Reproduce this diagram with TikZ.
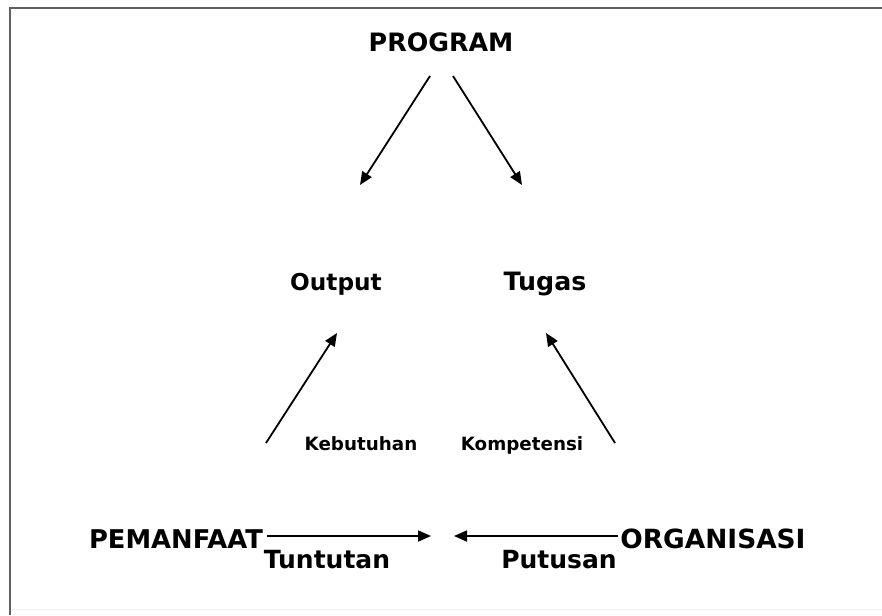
\documentclass[tikz,border=0pt]{standalone}
\usepackage{fontspec}
\setmainfont{DejaVu Sans}
\usetikzlibrary{arrows.meta}
\tikzset{
  lbl/.style={inner sep=0pt, anchor=base, font=\bfseries\fontsize{#1}{#1}\selectfont},
  arr/.style={line width=1.8pt, -{Triangle[length=13pt,width=11pt]}},
}
\begin{document}
\begin{tikzpicture}[x=1pt,y=-1pt]
\useasboundingbox (0,0) rectangle (882,615);
\fill[white] (0,0) rectangle (882,615);
% frame
\draw[line width=2.6pt, gray!75!black] (10,615) -- (10,8) -- (882,8);
\draw[line width=1pt, gray!12] (12,609) -- (882,609);
% labels
\node[lbl=25.3] (prog) at (441,52) {PROGRAM};
\node[lbl=23.2] (out) at (336,290) {Output};
\node[lbl=25.3] (tug) at (545,290) {Tugas};
\node[lbl=18.3] (keb) at (361,450) {Kebutuhan};
\node[lbl=18.3] (kom) at (522,450) {Kompetensi};
\node[lbl=25.8] (pem) at (176,548) {PEMANFAAT};
\node[lbl=26.4] (org) at (713,548) {ORGANISASI};
\node[lbl=25] (tun) at (327,568) {Tuntutan};
\node[lbl=25] (put) at (559,568) {Putusan};
% arrow end points
\coordinate (a1s) at (430,76);  \coordinate (a1e) at (360,185);
\coordinate (a2s) at (453,76);  \coordinate (a2e) at (522,185);
\coordinate (a3s) at (266,443); \coordinate (a3e) at (337,333);
\coordinate (a4s) at (615,443); \coordinate (a4e) at (546,333);
\coordinate (a5s) at (267,536); \coordinate (a5e) at (431,536);
\coordinate (a6s) at (618,536); \coordinate (a6e) at (454,536);
\draw[arr] (a1s) -- (a1e);
\draw[arr] (a2s) -- (a2e);
\draw[arr] (a3s) -- (a3e);
\draw[arr] (a4s) -- (a4e);
\draw[arr] (a5s) -- (a5e);
\draw[arr] (a6s) -- (a6e);
\end{tikzpicture}
\end{document}
